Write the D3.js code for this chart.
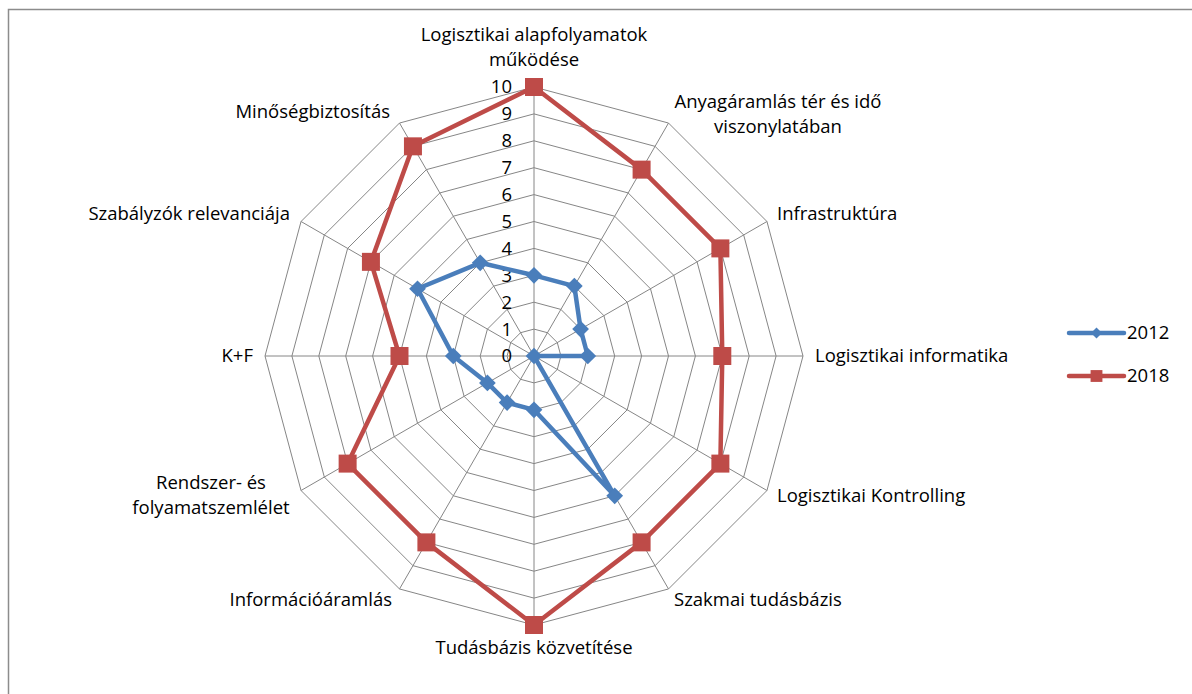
<!DOCTYPE html>
<html lang="hu">
<head>
<meta charset="utf-8">
<title>Radar</title>
<script src="https://d3js.org/d3.v7.min.js"></script>
<style>
  body { margin: 0; background: #fff; }
  text { font-family: "Open Sans", Lato, sans-serif; font-size: 18.5px; fill: #000; }
  .grid { fill: none; stroke: #868686; stroke-width: 1; }
</style>
</head>
<body>
<script>
var categories = [
  ["Logisztikai alapfolyamatok", "működése"],
  ["Anyagáramlás tér és idő", "viszonylatában"],
  ["Infrastruktúra"],
  ["Logisztikai informatika"],
  ["Logisztikai Kontrolling"],
  ["Szakmai tudásbázis"],
  ["Tudásbázis közvetítése"],
  ["Információáramlás"],
  ["Rendszer- és", "folyamatszemlélet"],
  ["K+F"],
  ["Szabályzók relevanciája"],
  ["Minőségbiztosítás"]
];
var values2012 = [3, 3, 2, 2, 0, 6, 2, 2, 2, 3, 5, 4];
var values2018 = [10, 8, 8, 7, 8, 8, 10, 8, 8, 5, 7, 9];
var ticks = [0, 1, 2, 3, 4, 5, 6, 7, 8, 9, 10];

var w = 1192, h = 694;
var cx = 534, cy = 356, R = 269;
var n = categories.length;

var svg = d3.select('body').append('svg')
    .attr('width', w)
    .attr('height', h);

svg.append('rect')
  .attr('x', 8.5).attr('y', 9.5)
  .attr('width', 1200).attr('height', 700)
  .attr('fill', 'none').attr('stroke', '#8c8c8c').attr('stroke-width', 1.5);

var r = d3.scaleLinear().domain([0, 10]).range([0, R]);
var angle = d3.scaleLinear().domain([0, n]).range([0, 2 * Math.PI]);

function pt(i, v) {
  var a = angle(i);
  return [cx + r(v) * Math.sin(a), cy - r(v) * Math.cos(a)];
}

var g = svg.append('g');

// rings
ticks.slice(1).forEach(function(t) {
  var ring = d3.range(n).map(function(i) { return pt(i, t); });
  g.append('path').attr('class', 'grid')
    .attr('d', d3.line()(ring) + 'Z');
});
// spokes
d3.range(n).forEach(function(i) {
  var p = pt(i, 10);
  g.append('line').attr('class', 'grid')
    .attr('x1', cx).attr('y1', cy).attr('x2', p[0]).attr('y2', p[1]);
});

// tick labels
g.selectAll('.tick')
  .data(ticks)
  .enter().append('text')
  .attr('x', cx - 22)
  .attr('y', function(d) { return cy - r(d); })
  .attr('dy', '0.35em')
  .attr('text-anchor', 'end')
  .text(function(d) { return d; });

// category labels
var labelPos = [
  {x: 534, y: 35, a: 'middle'},
  {x: 778, y: 102, a: 'middle'},
  {x: 777, y: 214, a: 'start'},
  {x: 815, y: 356, a: 'start'},
  {x: 777, y: 496, a: 'start'},
  {x: 674, y: 600, a: 'start'},
  {x: 534, y: 648, a: 'middle'},
  {x: 392, y: 600, a: 'end'},
  {x: 211, y: 483, a: 'middle'},
  {x: 253, y: 356, a: 'end'},
  {x: 290, y: 214, a: 'end'},
  {x: 390, y: 112, a: 'end'}
];
categories.forEach(function(lines, i) {
  var lp = labelPos[i];
  var t = g.append('text')
    .attr('text-anchor', lp.a);
  lines.forEach(function(s, k) {
    t.append('tspan')
      .attr('x', lp.x)
      .attr('y', lp.y + k * 25)
      .attr('dy', '0.35em')
      .text(s);
  });
});

var series = [
  {name: '2012', values: values2012, color: '#4a7ebb', marker: 'diamond'},
  {name: '2018', values: values2018, color: '#be4b48', marker: 'square'}
];

var square = d3.symbol().type(d3.symbolSquare).size(324);
var diamond = d3.symbol().type(d3.symbolSquare).size(140);

function drawMarker(sel, s) {
  if (s.marker === 'diamond') {
    sel.append('path').attr('d', diamond())
      .attr('transform', function(d) { return 'translate(' + [d[0], d[1]] + ') rotate(45)'; })
      .attr('fill', s.color);
  } else {
    sel.append('path').attr('d', square())
      .attr('transform', function(d) { return 'translate(' + [d[0], d[1]] + ')'; })
      .attr('fill', s.color);
  }
}

series.forEach(function(s) {
  var pts = s.values.map(function(v, i) { return pt(i, v); });
  g.append('path')
    .attr('d', d3.line()(pts) + 'Z')
    .attr('fill', 'none')
    .attr('stroke', s.color)
    .attr('stroke-width', 4.5)
    .attr('stroke-linejoin', 'round');
  var m = g.selectAll('.m' + s.name).data(pts).enter().append('g');
  drawMarker(m, s);
});

// legend
var legY = [333, 376];
series.forEach(function(s, k) {
  var lg = svg.append('g').attr('transform', 'translate(1069,' + legY[k] + ')');
  lg.append('line').attr('x1', 0).attr('x2', 55).attr('y1', 0).attr('y2', 0)
    .attr('stroke', s.color).attr('stroke-width', 4.5).attr('stroke-linecap', 'round');
  if (s.marker === 'diamond') {
    lg.append('path').attr('d', d3.symbol().type(d3.symbolSquare).size(60)())
      .attr('transform', 'translate(27.5,0) rotate(45)').attr('fill', s.color);
  } else {
    lg.append('path').attr('d', d3.symbol().type(d3.symbolSquare).size(140)())
      .attr('transform', 'translate(27.5,0)').attr('fill', s.color);
  }
  lg.append('text').attr('x', 58).attr('y', 0).attr('dy', '0.35em').text(s.name);
});
</script>
</body>
</html>
